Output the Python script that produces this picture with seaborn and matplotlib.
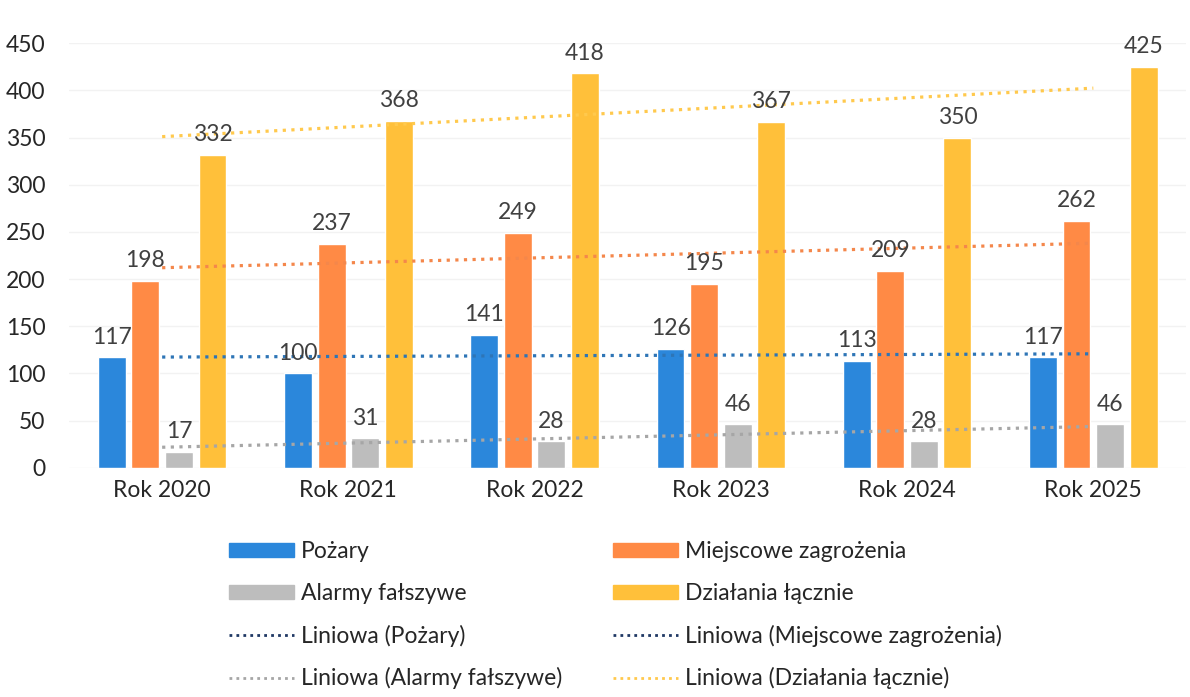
import matplotlib
matplotlib.use("Agg")
import matplotlib.pyplot as plt
from matplotlib.lines import Line2D
from matplotlib.patches import Patch
import numpy as np
import pandas as pd
import seaborn as sns

years = ["Rok 2020", "Rok 2021", "Rok 2022", "Rok 2023", "Rok 2024", "Rok 2025"]
pozary = [117, 100, 141, 126, 113, 117]
miejscowe = [198, 237, 249, 195, 209, 262]
alarmy = [17, 31, 28, 46, 28, 46]
lacznie = [332, 368, 418, 367, 350, 425]

series = ["Pożary", "Miejscowe zagrożenia", "Alarmy fałszywe", "Działania łącznie"]
colors = ["#2B87DB", "#FF8A45", "#BDBDBD", "#FFC03A"]
trend_colors = ["#2E75B6", "#F4874B", "#A6A6A6", "#FFC94D"]

df = pd.DataFrame({
    "rok": years * 4,
    "seria": [s for s in series for _ in years],
    "wartosc": pozary + miejscowe + alarmy + lacznie,
})

sns.set_style("white")
plt.rcParams["font.family"] = ["Lato", "DejaVu Sans"]
fs = 16.5

fig, ax = plt.subplots(figsize=(11.9, 6.97), dpi=100)
fig.subplots_adjust(left=0.058, right=0.997, top=0.938, bottom=0.329)

sns.barplot(data=df, x="rok", y="wartosc", hue="seria", order=years, hue_order=series,
            palette=colors, width=0.72, gap=0.17, errorbar=None, saturation=1, ax=ax, legend=False)

for cont in ax.containers:
    ax.bar_label(cont, padding=7, fontsize=fs, color="#404040")

# linear trend lines (Excel "Liniowa")
x = np.arange(len(years))
for vals, c in zip([pozary, miejscowe, alarmy, lacznie], trend_colors):
    k, b = np.polyfit(x, vals, 1)
    ax.plot(x, k * x + b, linestyle=(0, (1, 1.7)), color=c, lw=2.3)

ax.set_ylim(0, 450)
ax.set_xlim(-0.5, 5.5)
ax.set_yticks(range(0, 451, 50))
ax.yaxis.grid(True, color="#F2F2F2", lw=1)
ax.set_axisbelow(True)
ax.set_xlabel("")
ax.set_ylabel("")
ax.tick_params(axis="both", labelsize=fs, colors="#262626", length=0)
ax.tick_params(axis="y", pad=17)
ax.tick_params(axis="x", pad=9)
for s in ax.spines.values():
    s.set_visible(False)

handles = [
    Patch(color=colors[0]),
    Patch(color=colors[2]),
    Line2D([0], [0], color="#1F3864", lw=2, linestyle=(0, (1, 1.5))),
    Line2D([0], [0], color=trend_colors[2], lw=2, linestyle=(0, (1, 1.5))),
    Patch(color=colors[1]),
    Patch(color=colors[3]),
    Line2D([0], [0], color="#1F3864", lw=2, linestyle=(0, (1, 1.5))),
    Line2D([0], [0], color=trend_colors[3], lw=2, linestyle=(0, (1, 1.5))),
]
labels = ["Pożary", "Alarmy fałszywe", "Liniowa (Pożary)", "Liniowa (Alarmy fałszywe)",
          "Miejscowe zagrożenia", "Działania łącznie", "Liniowa (Miejscowe zagrożenia)",
          "Liniowa (Działania łącznie)"]
fig.legend(handles, labels, ncol=2, loc="upper left", bbox_to_anchor=(0.175, 0.253),
           frameon=False, fontsize=fs, handlelength=2.85, handleheight=0.55,
           handletextpad=0.3, columnspacing=2.2, labelspacing=0.9, labelcolor="#262626")

plt.savefig("out.png")
